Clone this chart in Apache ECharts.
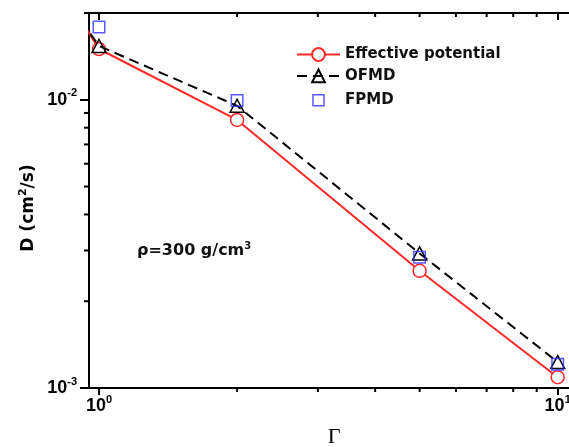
<!DOCTYPE html>
<html>
<head>
<meta charset="utf-8">
<script src="https://cdn.jsdelivr.net/npm/echarts@6/dist/echarts.min.js"></script>
<style>
  html, body { margin: 0; padding: 0; background: #fff; }
  #chart { width: 569px; height: 447px; }
</style>
</head>
<body>
<div id="chart"></div>
<script>
// Diffusion coefficient D (cm^2/s) versus coupling parameter Gamma, rho = 300 g/cm^3
const gammaLine = [0.5, 1, 2, 5, 10];
const effectivePotential = [0.088, 0.0150, 0.00851, 0.00255, 0.00109];
const ofmd = [0.073, 0.01537, 0.00953, 0.00293, 0.00123];
const gammaFpmd = [1, 2, 5, 10];
const fpmd = [0.0179, 0.00995, 0.00284, 0.00121];

// minor tick values for the log axes
const xMinorTicks = [2, 3, 4, 5, 6, 7, 8, 9];
const yMinorTicks = [0.002, 0.003, 0.004, 0.005, 0.006, 0.007, 0.008, 0.009, 0.02];

const X_MIN = 0.951, X_MAX = 12, Y_MIN = 0.001, Y_MAX = 0.02;

const RED = '#ff2828', BLUE = '#3030ff', BLACK = '#000';
const SANS = 'Liberation Sans, Arial, sans-serif';
const WIDE = 'DejaVu Sans, sans-serif';

const pairs = (xs, ys) => xs.map((x, i) => [x, ys[i]]);

// label decades as 10 with a raised exponent
function powerLabel(v) {
  const e = Math.log10(v);
  const r = Math.round(e);
  if (Math.abs(e - r) > 1e-6) return '';
  return '{b|10}{s|' + r + '}';
}
const powerRich = {
  b: { fontFamily: SANS, fontWeight: 'bold', fontSize: 18, color: BLACK, lineHeight: 24 },
  s: { fontFamily: SANS, fontWeight: 'bold', fontSize: 11, color: BLACK, lineHeight: 11, verticalAlign: 'top' }
};
const labelBase = { fontFamily: SANS, fontWeight: 'bold', fontSize: 18, color: BLACK };

const tickData = [];
xMinorTicks.forEach(v => tickData.push([v, Y_MIN, 0]));
yMinorTicks.forEach(v => tickData.push([X_MIN, v, 1]));

const chart = echarts.init(document.getElementById('chart'), null, { renderer: 'canvas' });

chart.setOption({
  animation: false,
  backgroundColor: '#fff',
  grid: { left: 89, top: 13, width: 505, height: 375, containLabel: false, outerBoundsMode: 'none' },
  xAxis: [
    {
      type: 'log', logBase: 10, min: X_MIN, max: X_MAX, position: 'bottom',
      axisLine: { show: true, lineStyle: { color: BLACK, width: 2 } },
      axisTick: { show: true, inside: false, length: 7, lineStyle: { color: BLACK, width: 2 } },
      axisLabel: Object.assign({ formatter: powerLabel, rich: powerRich, margin: 6, showMinLabel: false, showMaxLabel: false, hideOverlap: false }, labelBase),
      splitLine: { show: false }
    },
    {
      type: 'log', logBase: 10, min: X_MIN, max: X_MAX, position: 'top',
      axisLine: { show: true, lineStyle: { color: BLACK, width: 2 } },
      axisTick: { show: true, inside: true, length: 7, lineStyle: { color: BLACK, width: 2 } },
      axisLabel: { show: false },
      splitLine: { show: false }
    }
  ],
  yAxis: {
    type: 'log', logBase: 10, min: Y_MIN, max: Y_MAX,
    axisLine: { show: true, lineStyle: { color: BLACK, width: 2 } },
    axisTick: { show: true, inside: false, length: 9, lineStyle: { color: BLACK, width: 2 } },
    axisLabel: Object.assign({ formatter: powerLabel, rich: powerRich, margin: 12, showMinLabel: true, showMaxLabel: false, hideOverlap: false }, labelBase),
    splitLine: { show: false }
  },
  legend: {
    orient: 'vertical', left: 296, top: 47, padding: 0,
    itemWidth: 43, itemHeight: 16, itemGap: 5,
    textStyle: { fontFamily: WIDE, fontWeight: 'bold', fontSize: 15, color: '#111' },
    data: [
      { name: 'Effective potential' },
      { name: 'OFMD' },
      { name: 'FPMD', icon: 'path://M0,0M16,16M2.5,2.5h11v11h-11z',
        itemStyle: { color: 'none', borderColor: BLUE, borderWidth: 1.5 } }
    ]
  },
  graphic: [
    {
      type: 'text', x: 29, y: 208, rotation: Math.PI / 2,
      style: {
        text: '{a|D (cm}{s|2}{a|/s)}', align: 'center', verticalAlign: 'middle',
        rich: {
          a: { fontFamily: WIDE, fontWeight: 'bold', fontSize: 17, fill: BLACK, lineHeight: 22 },
          s: { fontFamily: WIDE, fontWeight: 'bold', fontSize: 11, fill: BLACK, lineHeight: 12, verticalAlign: 'top' }
        }
      }
    },
    {
      type: 'text', x: 334, y: 437,
      style: {
        text: 'Γ', align: 'center', verticalAlign: 'middle',
        font: '22px "Liberation Serif", "DejaVu Serif", serif', fill: BLACK
      }
    },
    {
      type: 'text', x: 137, y: 251,
      style: {
        text: '{a|ρ=300 g/cm}{s|3}', align: 'left', verticalAlign: 'middle',
        rich: {
          a: { fontFamily: WIDE, fontWeight: 'bold', fontSize: 16, fill: '#111', lineHeight: 20 },
          s: { fontFamily: WIDE, fontWeight: 'bold', fontSize: 10, fill: '#111', lineHeight: 11, verticalAlign: 'top' }
        }
      }
    }
  ],
  series: [
    {
      name: 'Effective potential', type: 'line', xAxisIndex: 0, yAxisIndex: 0,
      data: pairs(gammaLine, effectivePotential), clip: true,
      symbol: 'circle', symbolSize: 13, showAllSymbol: true,
      lineStyle: { color: RED, width: 2 },
      itemStyle: { color: '#fff', borderColor: RED, borderWidth: 1.5 },
      z: 3
    },
    {
      name: 'OFMD', type: 'line', xAxisIndex: 0, yAxisIndex: 0,
      data: pairs(gammaLine, ofmd), clip: true,
      symbol: 'triangle', symbolSize: [14, 13], showAllSymbol: true,
      lineStyle: { color: BLACK, width: 2, type: [10, 6] },
      itemStyle: { color: 'none', borderColor: BLACK, borderWidth: 1.5 },
      z: 4
    },
    {
      name: 'FPMD', type: 'scatter', xAxisIndex: 0, yAxisIndex: 0,
      data: pairs(gammaFpmd, fpmd),
      symbol: 'rect', symbolSize: 11.5,
      itemStyle: { color: 'none', borderColor: BLUE, borderWidth: 1.5 },
      z: 5
    },
    {
      // minor ticks at 2..9 of each decade on the log axes
      type: 'custom', xAxisIndex: 0, yAxisIndex: 0, silent: true, clip: false, z: 6,
      data: tickData,
      renderItem(params, api) {
        const kind = api.value(2);
        const p = api.coord([api.value(0), api.value(1)]);
        const cs = params.coordSys;
        const st = { stroke: BLACK, lineWidth: 2 };
        if (kind === 0) {
          return {
            type: 'group', children: [
              { type: 'line', shape: { x1: p[0], y1: cs.y + cs.height, x2: p[0], y2: cs.y + cs.height + 4 }, style: st },
              { type: 'line', shape: { x1: p[0], y1: cs.y, x2: p[0], y2: cs.y + 4 }, style: st }
            ]
          };
        }
        return { type: 'line', shape: { x1: cs.x - 5, y1: p[1], x2: cs.x, y2: p[1] }, style: st };
      }
    }
  ]
});
</script>
</body>
</html>
